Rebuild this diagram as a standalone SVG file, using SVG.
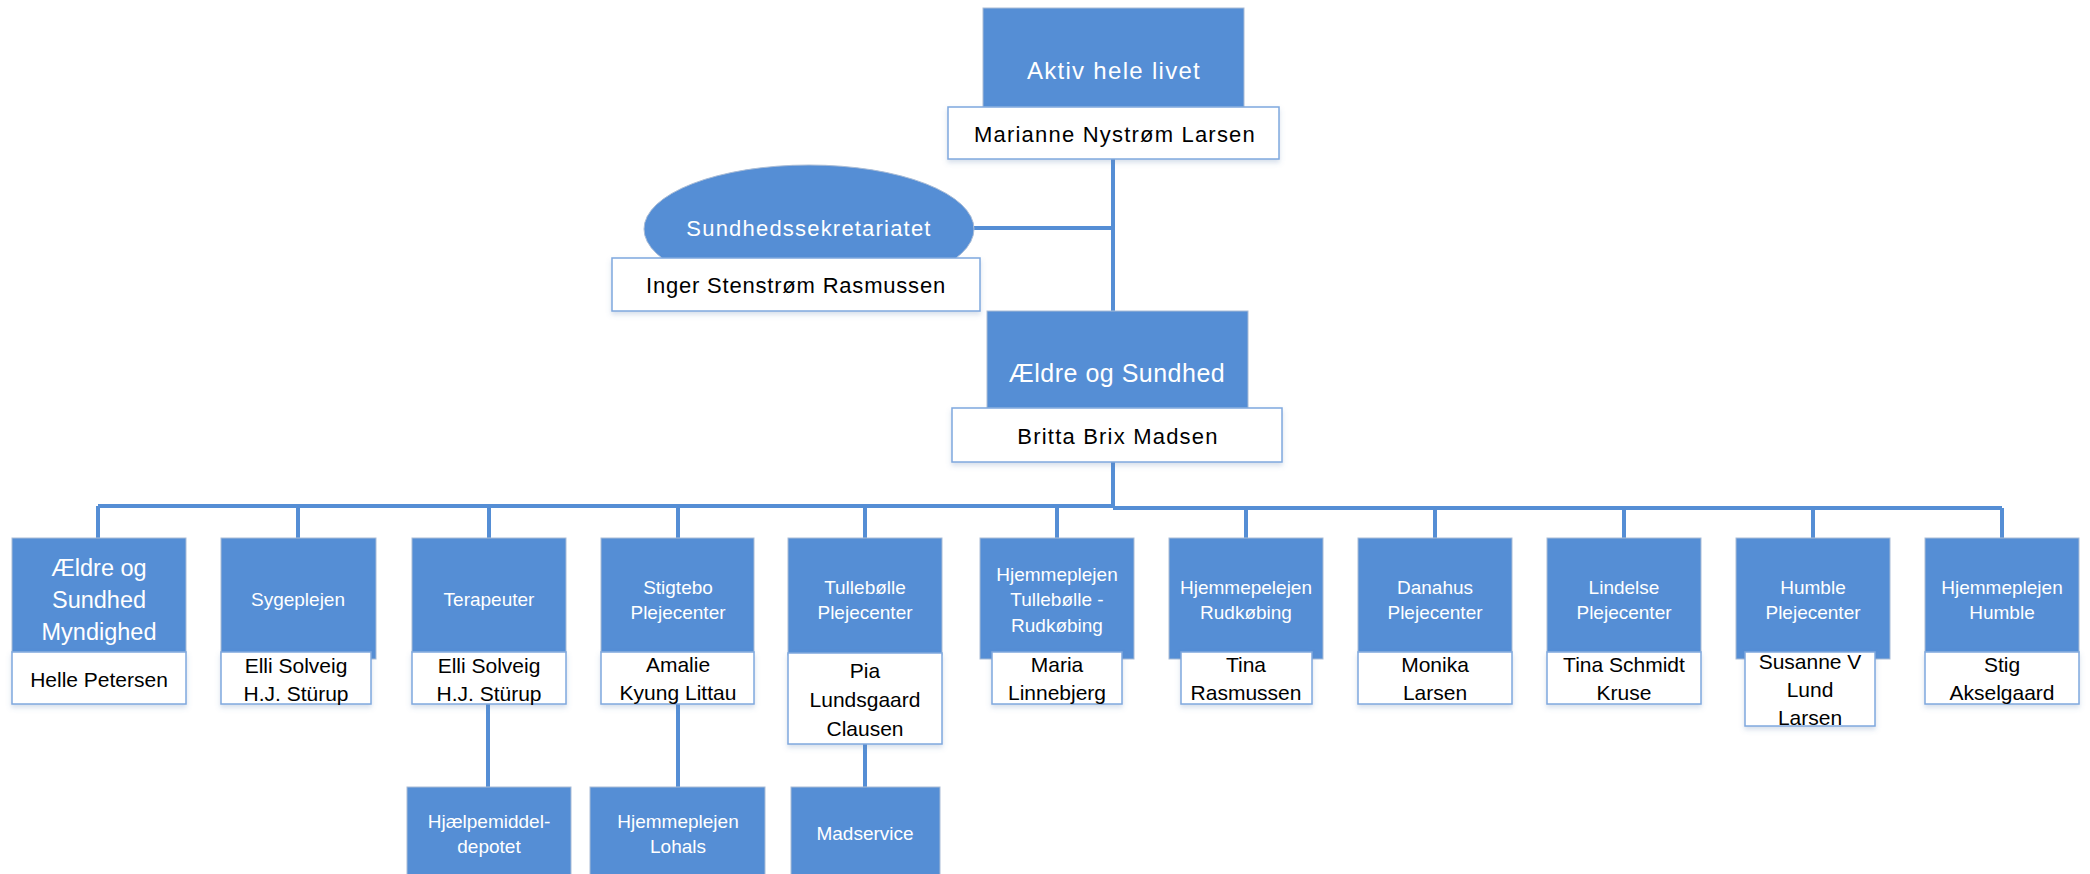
<svg xmlns="http://www.w3.org/2000/svg" width="2090" height="874" viewBox="0 0 2090 874">
<style>
.bl{fill:#558ED5;stroke:#A9BCD6;stroke-width:1}
.wh{fill:#FFFFFF;stroke:#7FA8DE;stroke-width:1.5}
.con{stroke:#558ED5;stroke-width:4;fill:none}
text{font-family:"Liberation Sans",Arial,sans-serif;text-anchor:middle}
.t{fill:#FFFFFF;font-size:19px}
.n{fill:#000000;font-size:21px}
</style>
<defs>
<filter id="sh" x="-10%" y="-10%" width="120%" height="140%">
<feDropShadow dx="0" dy="3" stdDeviation="2.5" flood-color="#5B7FB0" flood-opacity="0.25"/>
</filter>
</defs>
<rect width="2090" height="874" fill="#FFFFFF"/>
<g id="connectors">
<path class="con" d="M1113,159 V311"/>
<path class="con" d="M974,228 H1113"/>
<path class="con" d="M1113,462 V507"/>
<path class="con" d="M98,506 H1113"/>
<path class="con" d="M1113,508 H2002"/>
<path class="con" d="M98,506 V538 M298,506 V538 M489,506 V538 M678,506 V538 M865,506 V538 M1057,506 V538 M1246,508 V538 M1435,508 V538 M1624,508 V538 M1813,508 V538 M2002,508 V538"/>
<path class="con" d="M488,704 V787 M678,704 V787 M865,744 V787"/>
</g>
<g id="node-aktiv">
<rect class="bl" x="983" y="8" width="261" height="99"/>
<rect class="wh" x="948" y="107" width="331" height="52" filter="url(#sh)"/>
<text class="t" x="1114" y="79" style="font-size:24px;letter-spacing:1.3px">Aktiv hele livet</text>
<text class="n" x="1115" y="142" style="font-size:22px;letter-spacing:1.2px">Marianne Nystrøm Larsen</text>
</g>
<g id="node-sekretariat">
<ellipse cx="809" cy="229" rx="165" ry="64" fill="#558ED5" stroke="#A9BCD6" stroke-width="1"/>
<rect class="wh" x="612" y="258" width="368" height="53" filter="url(#sh)"/>
<text class="t" x="809" y="236" style="font-size:22px;letter-spacing:1.2px">Sundhedssekretariatet</text>
<text class="n" x="796" y="293" style="font-size:22px;letter-spacing:0.8px">Inger Stenstrøm Rasmussen</text>
</g>
<g id="node-aeldre">
<rect class="bl" x="987" y="311" width="261" height="97"/>
<rect class="wh" x="952" y="408" width="330" height="54" filter="url(#sh)"/>
<text class="t" x="1117" y="382" style="font-size:25px;letter-spacing:0.5px">Ældre og Sundhed</text>
<text class="n" x="1118" y="444" style="font-size:22px;letter-spacing:1.2px">Britta Brix Madsen</text>
</g>
<g id="node-myndighed">
<rect class="bl" x="12" y="538" width="174" height="114"/>
<rect class="wh" x="12" y="652" width="174" height="52" filter="url(#sh)"/>
<text class="t" x="99" style="font-size:23.5px"><tspan x="99" y="576">Ældre og</tspan><tspan x="99" y="608">Sundhed</tspan><tspan x="99" y="640">Myndighed</tspan></text>
<text class="n" x="99" y="687">Helle Petersen</text>
</g>
<g id="node-sygeplejen">
<rect class="bl" x="221" y="538" width="155" height="121"/>
<rect class="wh" x="221" y="652" width="150" height="52" filter="url(#sh)"/>
<text class="t" x="298" y="606">Sygeplejen</text>
<text class="n"><tspan x="296" y="673">Elli Solveig</tspan><tspan x="296" y="701">H.J. Stürup</tspan></text>
</g>
<g id="node-terapeuter">
<rect class="bl" x="412" y="538" width="154" height="114"/>
<rect class="wh" x="412" y="652" width="154" height="52" filter="url(#sh)"/>
<text class="t" x="489" y="606">Terapeuter</text>
<text class="n"><tspan x="489" y="673">Elli Solveig</tspan><tspan x="489" y="701">H.J. Stürup</tspan></text>
</g>
<g id="node-stigtebo">
<rect class="bl" x="601" y="538" width="153" height="114"/>
<rect class="wh" x="601" y="652" width="153" height="52" filter="url(#sh)"/>
<text class="t"><tspan x="678" y="594">Stigtebo</tspan><tspan x="678" y="619">Plejecenter</tspan></text>
<text class="n"><tspan x="678" y="672">Amalie</tspan><tspan x="678" y="700">Kyung Littau</tspan></text>
</g>
<g id="node-tullebolle">
<rect class="bl" x="788" y="538" width="154" height="117"/>
<rect class="wh" x="788" y="653" width="154" height="91" filter="url(#sh)"/>
<text class="t"><tspan x="865" y="594">Tullebølle</tspan><tspan x="865" y="619">Plejecenter</tspan></text>
<text class="n"><tspan x="865" y="678">Pia</tspan><tspan x="865" y="707">Lundsgaard</tspan><tspan x="865" y="736">Clausen</tspan></text>
</g>
<g id="node-hjemmeplejen-tullebolle">
<rect class="bl" x="980" y="538" width="154" height="121"/>
<rect class="wh" x="992" y="652" width="130" height="52" filter="url(#sh)"/>
<text class="t"><tspan x="1057" y="581">Hjemmeplejen</tspan><tspan x="1057" y="606">Tullebølle -</tspan><tspan x="1057" y="632">Rudkøbing</tspan></text>
<text class="n"><tspan x="1057" y="672">Maria</tspan><tspan x="1057" y="700">Linnebjerg</tspan></text>
</g>
<g id="node-hjemmepelejen-rudkobing">
<rect class="bl" x="1169" y="538" width="154" height="121"/>
<rect class="wh" x="1181" y="652" width="131" height="52" filter="url(#sh)"/>
<text class="t"><tspan x="1246" y="594">Hjemmepelejen</tspan><tspan x="1246" y="619">Rudkøbing</tspan></text>
<text class="n"><tspan x="1246" y="672">Tina</tspan><tspan x="1246" y="700">Rasmussen</tspan></text>
</g>
<g id="node-danahus">
<rect class="bl" x="1358" y="538" width="154" height="114"/>
<rect class="wh" x="1358" y="652" width="154" height="52" filter="url(#sh)"/>
<text class="t"><tspan x="1435" y="594">Danahus</tspan><tspan x="1435" y="619">Plejecenter</tspan></text>
<text class="n"><tspan x="1435" y="672">Monika</tspan><tspan x="1435" y="700">Larsen</tspan></text>
</g>
<g id="node-lindelse">
<rect class="bl" x="1547" y="538" width="154" height="114"/>
<rect class="wh" x="1547" y="652" width="154" height="52" filter="url(#sh)"/>
<text class="t"><tspan x="1624" y="594">Lindelse</tspan><tspan x="1624" y="619">Plejecenter</tspan></text>
<text class="n"><tspan x="1624" y="672">Tina Schmidt</tspan><tspan x="1624" y="700">Kruse</tspan></text>
</g>
<g id="node-humble">
<rect class="bl" x="1736" y="538" width="154" height="121"/>
<rect class="wh" x="1745" y="652" width="130" height="74" filter="url(#sh)"/>
<text class="t"><tspan x="1813" y="594">Humble</tspan><tspan x="1813" y="619">Plejecenter</tspan></text>
<text class="n"><tspan x="1810" y="669">Susanne V</tspan><tspan x="1810" y="697">Lund</tspan><tspan x="1810" y="725">Larsen</tspan></text>
</g>
<g id="node-hjemmeplejen-humble">
<rect class="bl" x="1925" y="538" width="154" height="114"/>
<rect class="wh" x="1925" y="652" width="154" height="52" filter="url(#sh)"/>
<text class="t"><tspan x="2002" y="594">Hjemmeplejen</tspan><tspan x="2002" y="619">Humble</tspan></text>
<text class="n"><tspan x="2002" y="672">Stig</tspan><tspan x="2002" y="700">Akselgaard</tspan></text>
</g>
<g id="node-hjaelpemiddel">
<rect class="bl" x="407" y="787" width="164" height="110"/>
<text class="t"><tspan x="489" y="828">Hjælpemiddel-</tspan><tspan x="489" y="853">depotet</tspan></text>
</g>
<g id="node-lohals">
<rect class="bl" x="590" y="787" width="175" height="110"/>
<text class="t"><tspan x="678" y="828">Hjemmeplejen</tspan><tspan x="678" y="853">Lohals</tspan></text>
</g>
<g id="node-madservice">
<rect class="bl" x="791" y="787" width="149" height="110"/>
<text class="t" x="865" y="840">Madservice</text>
</g>
</svg>
